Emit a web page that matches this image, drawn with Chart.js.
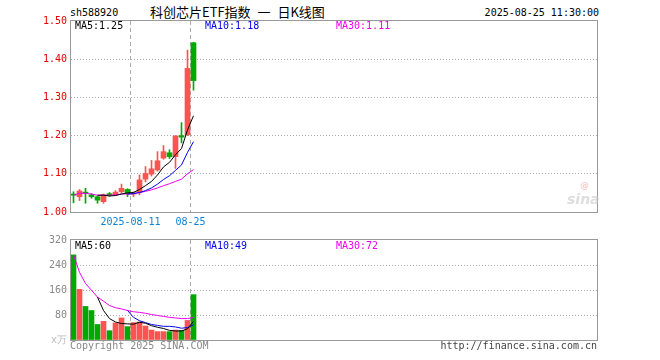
<!DOCTYPE html>
<html>
<head>
<meta charset="utf-8">
<script src="https://cdn.jsdelivr.net/npm/chart.js@4.4.1/dist/chart.umd.min.js"></script>
<style>
body { margin: 0; background: #fff; }
#wrap { position: relative; width: 660px; height: 360px; overflow: hidden; font-family: 'DejaVu Sans Mono', monospace; font-size: 10px; line-height: 12px; }
#wrap canvas { position: absolute; left: 0; }
.t { position: absolute; white-space: nowrap; }
</style>
</head>
<body>
<div id="wrap">
    <div class="t" style="left:70px;top:7px">sh588920</div>
    <div class="t" style="left:150px;top:4px;font:13px/16px 'Noto Sans CJK SC';word-spacing:4px">科创芯片ETF指数 一 日K线图</div>
    <div class="t" style="right:61px;top:7px">2025-08-25 11:30:00</div>
    <canvas id="kline" width="660" height="230" style="top:0"></canvas>
    <canvas id="vol" width="660" height="130" style="top:230px"></canvas>
    <div class="t" id="k5" style="left:75px;top:20px;color:#000"></div>
    <div class="t" id="k10" style="left:205px;top:20px;color:#0000ee"></div>
    <div class="t" id="k30" style="left:336px;top:20px;color:#ee00ee"></div>
    <div class="t" id="v5" style="left:75px;top:240px;color:#000"></div>
    <div class="t" id="v10" style="left:205px;top:240px;color:#0000ee"></div>
    <div class="t" id="v30" style="left:336px;top:240px;color:#ee00ee"></div>
    <div class="t" style="left:580px;top:180px;font:bold 9px/10px 'DejaVu Sans';color:rgba(240,150,150,0.5)">@</div>
    <div class="t" style="left:567px;top:191px;font:italic bold 14px/16px 'DejaVu Sans';color:rgba(200,200,200,0.6)">sina</div>
    <div class="t" style="left:70px;top:340px;color:#888">Copyright 2025 SINA.COM</div>
    <div class="t" style="right:63px;top:340px;color:#444">http://finance.sina.com.cn</div>
</div>
<script>
// daily candles
const dates = ['2025-07-28', '2025-07-29', '2025-07-30', '2025-07-31', '2025-08-01', '2025-08-04', '2025-08-05',
    '2025-08-06', '2025-08-07', '2025-08-08', '2025-08-11', '2025-08-12', '2025-08-13', '2025-08-14',
    '2025-08-15', '2025-08-18', '2025-08-19', '2025-08-20', '2025-08-21', '2025-08-22', '2025-08-25'];
const opens  = [1.047, 1.040, 1.052, 1.045, 1.040, 1.027, 1.048, 1.045, 1.053, 1.059, 1.047, 1.052, 1.086, 1.099, 1.110, 1.141, 1.155, 1.145, 1.200, 1.202, 1.443];
const closes = [1.044, 1.055, 1.049, 1.040, 1.031, 1.045, 1.045, 1.052, 1.062, 1.048, 1.050, 1.084, 1.101, 1.113, 1.134, 1.158, 1.145, 1.199, 1.196, 1.376, 1.344];
const highs  = [1.053, 1.059, 1.062, 1.048, 1.042, 1.047, 1.051, 1.056, 1.073, 1.061, 1.053, 1.097, 1.119, 1.135, 1.158, 1.174, 1.163, 1.200, 1.234, 1.424, 1.444];
const lows   = [1.024, 1.030, 1.023, 1.036, 1.023, 1.023, 1.041, 1.043, 1.049, 1.040, 1.040, 1.045, 1.079, 1.094, 1.107, 1.138, 1.140, 1.114, 1.181, 1.200, 1.319];

// moving averages (price)
const ma5  = [null, null, null, null, 1.044, 1.044, 1.042, 1.043, 1.047, 1.050, 1.051, 1.059, 1.069, 1.080, 1.097, 1.118, 1.130, 1.150, 1.166, 1.215, 1.252];
const ma10 = [null, null, null, null, null, null, null, null, null, 1.047, 1.048, 1.051, 1.056, 1.063, 1.073, 1.085, 1.095, 1.109, 1.123, 1.156, 1.184];
const ma30 = [1.044, 1.049, 1.049, 1.047, 1.044, 1.044, 1.044, 1.045, 1.047, 1.047, 1.048, 1.051, 1.054, 1.058, 1.063, 1.069, 1.074, 1.080, 1.086, 1.100, 1.111];

// volume (万手) and its averages
const vols  = [274, 163, 108, 95, 50, 60, 30, 55, 71, 43, 56, 58, 45, 32, 27, 27, 27, 32, 31, 63, 146];
const vma5  = [null, null, null, null, 138, 95, 69, 58, 53, 52, 51, 57, 54, 46, 41, 37, 31, 29, 29, 36, 60];
const vma10 = [null, null, null, null, null, null, null, null, null, 95, 73, 62, 56, 50, 47, 44, 44, 42, 38, 40, 49];
const vma30 = [274, 218, 182, 160, 138, 125, 111, 104, 100, 95, 91, 89, 86, 82, 79, 76, 73, 71, 69, 69, 72];

// axis ticks
const tickDates = ['2025-08-11', '2025-08-25'];
const tickText = ['2025-08-11', '08-25'];
const priceTicks = [1.0, 1.1, 1.2, 1.3, 1.4, 1.5];
const volTicks = [0, 80, 160, 240, 320];

const UP = '#ff5252';
const DOWN = '#00a800';
const mono = { family: 'DejaVu Sans Mono', size: 10 };
Chart.defaults.font.family = 'DejaVu Sans Mono';

const isUp = i => closes[i] >= opens[i];
const candleColors = closes.map((c, i) => isUp(i) ? UP : DOWN);
const tickPos = tickDates.map(d => dates.indexOf(d) - 0.5);

// grey frame round the plot area
const frame = {
    id: 'frame',
    afterDraw(chart) {
        const a = chart.chartArea, ctx = chart.ctx;
        ctx.save();
        ctx.strokeStyle = '#999';
        ctx.lineWidth = 1;
        ctx.strokeRect(a.left - 0.5, a.top - 0.5, a.right - a.left + 1, a.bottom - a.top + 1);
        ctx.restore();
    }
};

// same x scale for both panels: 6px per day, room for ~88 days
function xScale(showLabels) {
    return {
        type: 'linear',
        min: -0.4167,
        max: 87.25,
        offset: false,
        afterBuildTicks: s => { s.ticks = tickPos.map(v => ({ value: v })); },
        afterFit: s => { s.height = showLabels ? 18 : 0; },
        grid: { offset: false, drawTicks: false, color: '#aaa' },
        border: { display: false, dash: [4, 3] },
        ticks: {
            display: showLabels, autoSkip: false, maxRotation: 0, padding: 4,
            color: '#0a84d8', font: mono,
            callback: (v, i) => tickText[i]
        }
    };
}

const lineSet = (arr, color) => ({
    type: 'line',
    data: arr.map((v, i) => ({ x: i, y: v })),
    borderColor: color,
    borderWidth: 1,
    pointRadius: 0,
    tension: 0,
    order: 0
});

const edgeHidden = ctx => (ctx.index === 0 || ctx.index === ctx.scale.ticks.length - 1) ? 'rgba(0,0,0,0)' : '#aaa';

new Chart(document.getElementById('kline'), {
    type: 'bar',
    data: {
        datasets: [
            lineSet(ma5, '#000'),
            lineSet(ma10, '#0000ee'),
            lineSet(ma30, '#ee00ee'),
            {
                // bodies
                data: opens.map((o, i) => ({ x: i, y: [o, closes[i]] })),
                backgroundColor: candleColors,
                grouped: false, barPercentage: 1, categoryPercentage: 1, maxBarThickness: 5,
                minBarLength: 1, borderWidth: 0, order: 1
            },
            {
                // wicks
                data: lows.map((l, i) => ({ x: i, y: [l, highs[i]] })),
                backgroundColor: candleColors,
                grouped: false, barPercentage: 1, categoryPercentage: 1, maxBarThickness: 1,
                borderWidth: 0, order: 2
            }
        ]
    },
    options: {
        responsive: false,
        animation: false,
        devicePixelRatio: 1,
        layout: { padding: { left: 0, right: 63, top: 21, bottom: 0 } },
        plugins: { legend: { display: false }, tooltip: { enabled: false } },
        scales: {
            x: xScale(true),
            y: {
                type: 'linear',
                min: priceTicks[0],
                max: priceTicks[priceTicks.length - 1],
                afterBuildTicks: s => { s.ticks = priceTicks.map(v => ({ value: v })); },
                afterFit: s => { s.width = 71; },
                grid: { drawTicks: false, color: edgeHidden },
                border: { display: false, dash: [1, 2] },
                ticks: { padding: 4, color: '#e60000', font: mono, callback: v => v.toFixed(2) }
            }
        }
    },
    plugins: [frame]
});

new Chart(document.getElementById('vol'), {
    type: 'bar',
    data: {
        datasets: [
            lineSet(vma5, '#000'),
            lineSet(vma10, '#0000ee'),
            lineSet(vma30, '#ee00ee'),
            {
                data: vols.map((v, i) => ({ x: i, y: v })),
                backgroundColor: candleColors,
                grouped: false, barPercentage: 1, categoryPercentage: 1, maxBarThickness: 5,
                borderWidth: 0, order: 1
            }
        ]
    },
    options: {
        responsive: false,
        animation: false,
        devicePixelRatio: 1,
        layout: { padding: { left: 0, right: 63, top: 10, bottom: 20 } },
        plugins: { legend: { display: false }, tooltip: { enabled: false } },
        scales: {
            x: xScale(false),
            y: {
                type: 'linear',
                min: 0,
                max: 322,
                afterBuildTicks: s => { s.ticks = volTicks.map(v => ({ value: v })); },
                afterFit: s => { s.width = 71; },
                grid: { drawTicks: false, color: edgeHidden },
                border: { display: false, dash: [1, 2] },
                ticks: {
                    padding: 4, font: mono,
                    color: ctx => ctx.index === 0 ? '#bbb' : '#888',
                    callback: v => v === 0 ? 'x万' : v
                }
            }
        }
    },
    plugins: [frame]
});

const last = a => a[a.length - 1];
document.getElementById('k5').textContent = 'MA5:' + last(ma5).toFixed(2);
document.getElementById('k10').textContent = 'MA10:' + last(ma10).toFixed(2);
document.getElementById('k30').textContent = 'MA30:' + last(ma30).toFixed(2);
document.getElementById('v5').textContent = 'MA5:' + last(vma5);
document.getElementById('v10').textContent = 'MA10:' + last(vma10);
document.getElementById('v30').textContent = 'MA30:' + last(vma30);
</script>
</body>
</html>
